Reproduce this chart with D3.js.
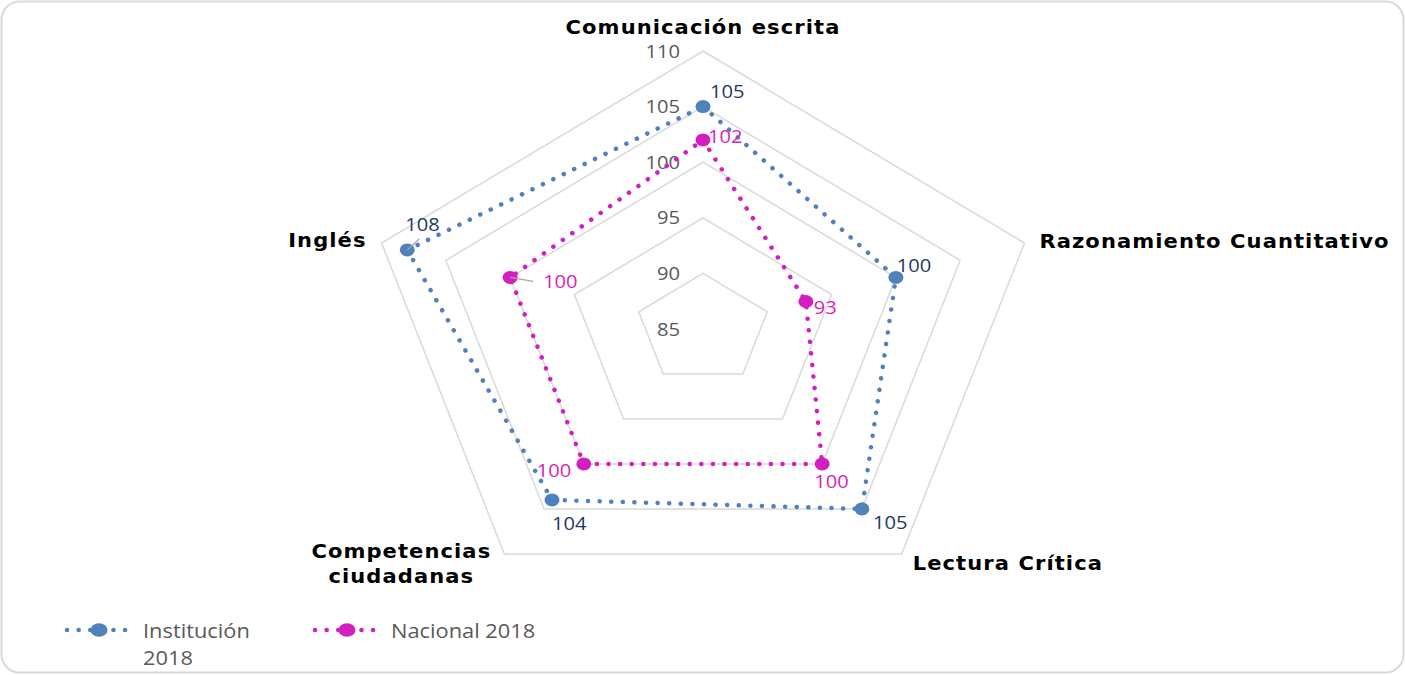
<!DOCTYPE html>
<html>
<head>
<meta charset="utf-8">
<script src="https://cdn.jsdelivr.net/npm/d3@7"></script>
<style>
  body { margin: 0; background: #fff; }
  svg { display: block; }
</style>
</head>
<body>
<svg id="chart" width="1405" height="675"></svg>
<script>
// data
var axes = ["Comunicación escrita", "Razonamiento Cuantitativo", "Lectura Crítica", "Competencias ciudadanas", "Inglés"];
var institucion = [105, 100, 105, 104, 108];
var nacional = [102, 93, 100, 100, 100];
var ticks = [85, 90, 95, 100, 105, 110];
var seriesNames = ["Institución 2018", "Nacional 2018"];

var width = 1405, height = 675;
var cx = 703, cy = 329;
var Rx = 338, Ry = 278;   // picture is stretched sideways

var blue = "#4f81bd", blueText = "#1f3864";
var pink = "#d41fc0";
var gridColor = "#d9d9d9", tickColor = "#595959";

var svg = d3.select("#chart");

// rounded border
svg.append("rect")
  .attr("x", 1.5).attr("y", 1.5)
  .attr("width", width - 3).attr("height", height - 4)
  .attr("rx", 18)
  .style("fill", "#fff")
  .style("stroke", gridColor)
  .style("stroke-width", 2);

var r = d3.scaleLinear().domain([85, 110]).range([0, 1]);
var angle = function(i) { return i * 2 * Math.PI / axes.length; };
var px = function(i, v) { return cx + Rx * r(v) * Math.sin(angle(i)); };
var py = function(i, v) { return cy - Ry * r(v) * Math.cos(angle(i)); };

// text helper, text gets the same sideways stretch as the picture
function label(g, x, y, str, o) {
  return g.append("text")
    .attr("transform", "translate(" + x + "," + y + ") scale(" + (o.sx || 1.15) + ",1)")
    .attr("text-anchor", o.anchor || "start")
    .style("font-family", o.family || "'Open Sans', sans-serif")
    .style("font-size", (o.size || 17.5) + "px")
    .style("font-weight", o.weight || "normal")
    .style("letter-spacing", o.spacing || "0px")
    .style("fill", o.color || tickColor)
    .text(str);
}

// rings
var ringLine = d3.line()
  .x(function(d) { return d[0]; })
  .y(function(d) { return d[1]; })
  .curve(d3.curveLinearClosed);

var grid = svg.append("g").attr("class", "grid");
ticks.slice(1).forEach(function(t) {
  grid.append("path")
    .attr("d", ringLine(axes.map(function(a, i) { return [px(i, t), py(i, t)]; })))
    .style("fill", "none")
    .style("stroke", gridColor)
    .style("stroke-width", 1.5);
});

// tick labels
ticks.forEach(function(t) {
  label(svg, 680, py(0, t) + 6.5, t, {anchor: "end"});
});

// axis labels
var axisLabelPos = [
  {dx: 0, dy: -17, anchor: "middle"},
  {dx: 15, dy: 5, anchor: "start"},
  {dx: 11, dy: 16, anchor: "start"},
  {dx: -103, dy: 4, anchor: "middle", lines: ["Competencias", "ciudadanas"]},
  {dx: -15, dy: 4, anchor: "end"}
];
axes.forEach(function(a, i) {
  var p = axisLabelPos[i];
  var lines = p.lines || [a];
  lines.forEach(function(ln, k) {
    label(svg, px(i, 110) + p.dx, py(i, 110) + p.dy + k * 25, ln, {
      anchor: p.anchor, family: "'DejaVu Sans', sans-serif", size: 19.5,
      weight: "bold", spacing: "1px", sx: 1.08, color: "#000"
    });
  });
});

// series
var series = [
  {name: seriesNames[0], values: institucion, color: blue, text: blueText,
   labels: [{dx: 7, dy: -9}, {dx: 1, dy: -5}, {dx: 11, dy: 20}, {dx: 0, dy: 30},
            {dx: -2, dy: -19, lead: [12, -11]}]},
  {name: seriesNames[1], values: nacional, color: pink, text: pink,
   labels: [{dx: 5, dy: 3}, {dx: 8, dy: 12}, {dx: -8, dy: 24}, {dx: -47, dy: 13},
            {dx: 33, dy: 11, lead: [23, 4]}]}
];

series.forEach(function(s) {
  var pts = s.values.map(function(v, i) { return [px(i, v), py(i, v)]; });
  var g = svg.append("g").attr("class", "series");

  g.append("path")
    .attr("d", ringLine(pts))
    .style("fill", "none")
    .style("stroke", s.color)
    .style("stroke-width", 4.5)
    .style("stroke-linecap", "round")
    .style("stroke-dasharray", "0.1 11.5");

  g.selectAll("ellipse")
    .data(pts)
    .enter().append("ellipse")
      .attr("cx", function(d) { return d[0]; })
      .attr("cy", function(d) { return d[1]; })
      .attr("rx", 7.5)
      .attr("ry", 6.5)
      .style("fill", s.color);

  s.values.forEach(function(v, i) {
    var l = s.labels[i];
    if (l.lead) {
      g.append("line")
        .attr("x1", pts[i][0]).attr("y1", pts[i][1])
        .attr("x2", pts[i][0] + l.lead[0]).attr("y2", pts[i][1] + l.lead[1])
        .style("stroke", "#a6a6a6").style("stroke-width", 1.2);
    }
    label(g, pts[i][0] + l.dx, pts[i][1] + l.dy, v, {color: s.text});
  });
});

// legend
var legendX = [67, 315];
series.forEach(function(s, k) {
  var lg = svg.append("g").attr("class", "legend")
    .attr("transform", "translate(" + legendX[k] + ",630)");
  lg.append("line")
    .attr("x1", 0).attr("x2", 62).attr("y1", 0).attr("y2", 0)
    .style("stroke", s.color)
    .style("stroke-width", 4.5)
    .style("stroke-linecap", "round")
    .style("stroke-dasharray", "0.1 11.5");
  lg.append("ellipse")
    .attr("cx", 32).attr("cy", 0).attr("rx", 8.5).attr("ry", 6.8)
    .style("fill", s.color);
  var words = k === 0 ? ["Institución", "2018"] : [s.name];
  words.forEach(function(w, j) {
    label(lg, 76, 8 + j * 27, w, {size: 19.5, sx: 1.12});
  });
});
</script>
</body>
</html>
